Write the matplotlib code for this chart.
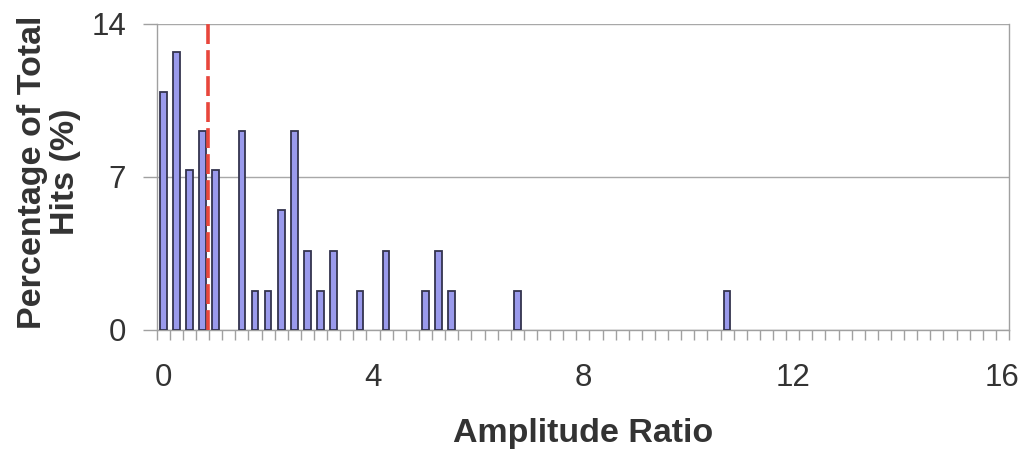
import matplotlib
matplotlib.use("Agg")
import matplotlib.pyplot as plt
import numpy as np
from matplotlib.ticker import FixedLocator

plt.rcParams['font.family'] = ['Liberation Sans', 'DejaVu Sans']

# Histogram bins (amplitude ratio, bin width 0.25) and share of total hits (%)
ratio_bins = [0.0, 0.25, 0.5, 0.75, 1.0, 1.5, 1.75, 2.0, 2.25, 2.5,
              2.75, 3.0, 3.25, 3.75, 4.25, 5.0, 5.25, 5.5, 6.75, 10.75]
hit_percent = [10.9, 12.7, 7.3, 9.1, 7.3, 9.1, 1.8, 1.8, 5.5, 9.1,
               3.6, 1.8, 3.6, 1.8, 3.6, 1.8, 3.6, 1.8, 1.8, 1.8]
x_ticks = [0, 4, 8, 12, 16]
y_ticks = [0, 7, 14]
threshold_ratio = 0.86

bin_width = 0.25
text_color = '#333333'
axis_color = '#a0a0a0'

fig = plt.figure(figsize=(10.24, 4.5), dpi=100)
ax = fig.add_axes([0.153, 0.2667, 0.8324, 0.68])

ax.bar(ratio_bins, hit_percent, width=bin_width * 0.5, color='#9a9aec',
       edgecolor='#34344e', linewidth=1.3, zorder=3)
ax.axvline(threshold_ratio, color='#e8463c', linestyle=(0, (5.5, 1.7)),
           linewidth=2.6, zorder=4)

ax.set_xlim(-bin_width / 2, 16 + bin_width / 2)
ax.set_ylim(0, 14)

ax.set_xticks(x_ticks)
ax.xaxis.set_minor_locator(FixedLocator(np.arange(-bin_width / 2, 16 + bin_width, bin_width)))
ax.tick_params(axis='x', which='major', length=0, pad=24, labelsize=22.5, colors=text_color)
ax.tick_params(axis='x', which='minor', length=7, width=1, color=axis_color, direction='out')
ax.set_yticks(y_ticks)
ax.tick_params(axis='y', length=10, width=1, color=axis_color, labelsize=22.5,
               labelcolor=text_color, pad=12)

ax.yaxis.grid(True, color='#a8a8a8', linewidth=1)
ax.set_axisbelow(True)
for side in ['left', 'bottom', 'right', 'top']:
    ax.spines[side].set_color(axis_color)
    ax.spines[side].set_linewidth(1)
ax.spines['top'].set_visible(False)

ax.set_xlabel('Amplitude Ratio', fontsize=24.5, fontweight='bold', color=text_color,
              va='center')
ax.xaxis.set_label_coords(0.5, -0.337)
ax.set_ylabel('Percentage of Total\nHits (%)', fontsize=24.5, fontweight='bold',
              color=text_color, linespacing=1.1, va='center')
ax.yaxis.set_label_coords(-0.126, 0.516)

fig.savefig('out.png', dpi=100, facecolor='white')
